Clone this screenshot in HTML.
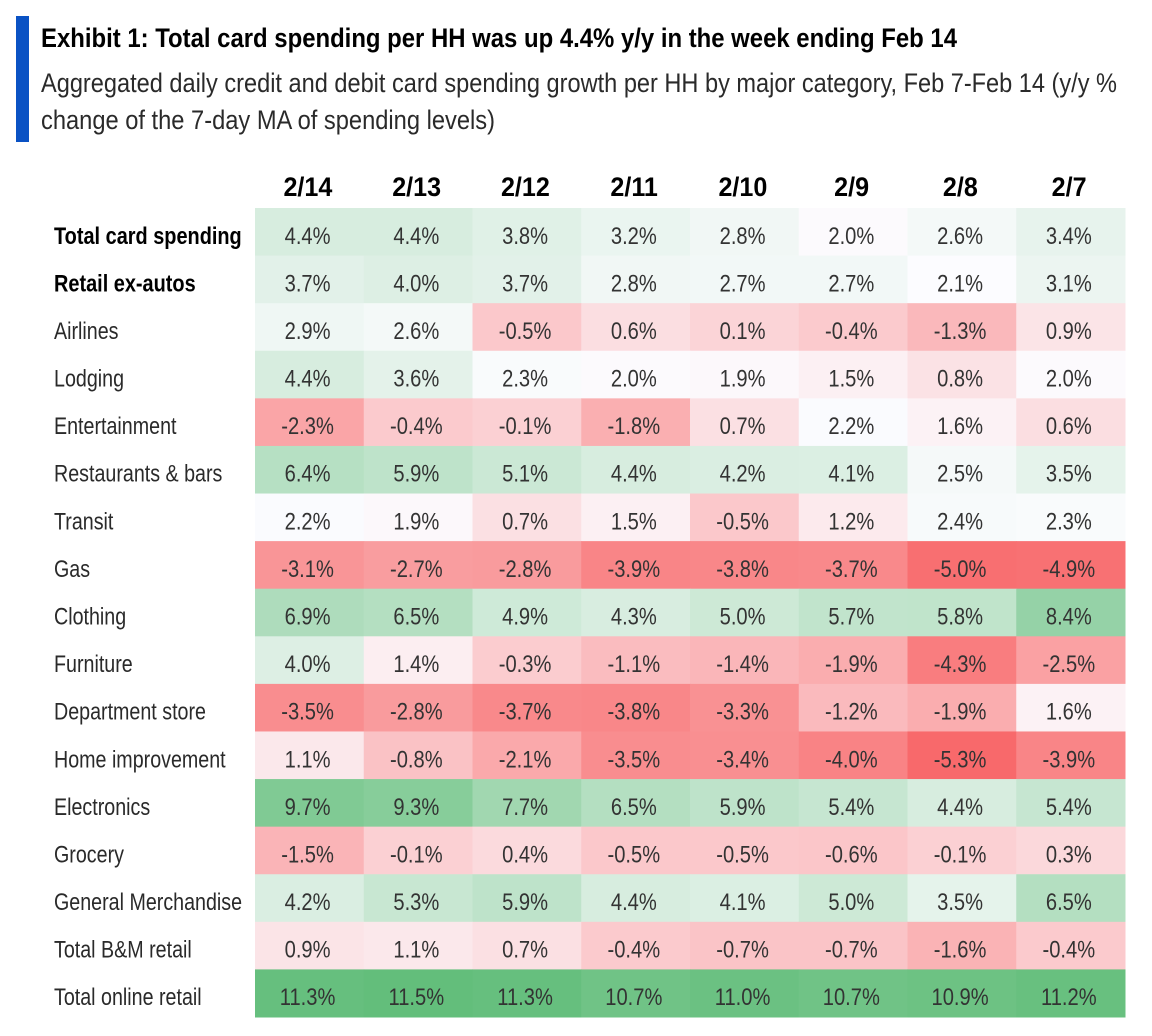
<!DOCTYPE html>
<html lang="en">
<head>
<meta charset="utf-8">
<title>Exhibit 1</title>
<style>
html,body{margin:0;padding:0;background:#fff;width:1152px;height:1036px;overflow:hidden}
svg{display:block;font-family:"Liberation Sans",sans-serif}
</style>
</head>
<body>
<svg id="chart" width="1152" height="1036" viewBox="0 0 1152 1036">
  <rect x="16" y="16" width="13" height="126" fill="#0a52c4"/>
  <text x="41" y="47" font-size="27" font-weight="700" fill="#000" textLength="916" lengthAdjust="spacingAndGlyphs">Exhibit 1: Total card spending per HH was up 4.4% y/y in the week ending Feb 14</text>
  <text x="41" y="92" font-size="27" fill="#2a2a2a" textLength="1076" lengthAdjust="spacingAndGlyphs">Aggregated daily credit and debit card spending growth per HH by major category, Feb 7-Feb 14 (y/y %</text>
  <text x="41" y="129" font-size="27" fill="#2a2a2a" textLength="454" lengthAdjust="spacingAndGlyphs">change of the 7-day MA of spending levels)</text>
  <g id="cells"></g>
  <g id="headers"></g>
  <g id="labels"></g>
  <g id="values"></g>
</svg>
<script>
const dates = ["2/14","2/13","2/12","2/11","2/10","2/9","2/8","2/7"];
const categories = ["Total card spending","Retail ex-autos","Airlines","Lodging","Entertainment","Restaurants & bars","Transit","Gas","Clothing","Furniture","Department store","Home improvement","Electronics","Grocery","General Merchandise","Total B&M retail","Total online retail"];
const boldCategories = ["Total card spending","Retail ex-autos"];
const totalCard = [4.4,4.4,3.8,3.2,2.8,2.0,2.6,3.4];
const retailExAutos = [3.7,4.0,3.7,2.8,2.7,2.7,2.1,3.1];
const airlines = [2.9,2.6,-0.5,0.6,0.1,-0.4,-1.3,0.9];
const lodging = [4.4,3.6,2.3,2.0,1.9,1.5,0.8,2.0];
const entertainment = [-2.3,-0.4,-0.1,-1.8,0.7,2.2,1.6,0.6];
const restaurants = [6.4,5.9,5.1,4.4,4.2,4.1,2.5,3.5];
const transit = [2.2,1.9,0.7,1.5,-0.5,1.2,2.4,2.3];
const gas = [-3.1,-2.7,-2.8,-3.9,-3.8,-3.7,-5.0,-4.9];
const clothing = [6.9,6.5,4.9,4.3,5.0,5.7,5.8,8.4];
const furniture = [4.0,1.4,-0.3,-1.1,-1.4,-1.9,-4.3,-2.5];
const departmentStore = [-3.5,-2.8,-3.7,-3.8,-3.3,-1.2,-1.9,1.6];
const homeImprovement = [1.1,-0.8,-2.1,-3.5,-3.4,-4.0,-5.3,-3.9];
const electronics = [9.7,9.3,7.7,6.5,5.9,5.4,4.4,5.4];
const grocery = [-1.5,-0.1,0.4,-0.5,-0.5,-0.6,-0.1,0.3];
const generalMerchandise = [4.2,5.3,5.9,4.4,4.1,5.0,3.5,6.5];
const totalBM = [0.9,1.1,0.7,-0.4,-0.7,-0.7,-1.6,-0.4];
const totalOnline = [11.3,11.5,11.3,10.7,11.0,10.7,10.9,11.2];
const seriesByRow = [totalCard,retailExAutos,airlines,lodging,entertainment,restaurants,transit,gas,clothing,furniture,departmentStore,homeImprovement,electronics,grocery,generalMerchandise,totalBM,totalOnline];

const NS = "http://www.w3.org/2000/svg";
const gridLeft = 255, gridRight = 1125, gridTop = 208, gridBottom = 1017;
const colWidth = (gridRight - gridLeft) / dates.length;
const rowHeight = (gridBottom - gridTop) / categories.length;
function xScale(i) { return gridLeft + i * colWidth; }
function yScale(i) { return gridTop + i * rowHeight; }

const allValues = seriesByRow.flat();
const scaleMin = Math.min(...allValues);
const scaleMax = Math.max(...allValues);
const scaleMid = 2.1;
function mix(a, b, t) { return a.map((c, k) => Math.round(c + (b[k] - c) * t)); }
function colorScale(v) {
  const red = [248,105,107], mid = [252,252,255], green = [99,190,123];
  const c = v >= scaleMid
    ? mix(mid, green, (v - scaleMid) / (scaleMax - scaleMid))
    : mix(mid, red, (scaleMid - v) / (scaleMid - scaleMin));
  return "rgb(" + c.join(",") + ")";
}

const cellsG = document.getElementById("cells");
const headersG = document.getElementById("headers");
const labelsG = document.getElementById("labels");
const valuesG = document.getElementById("values");

dates.forEach(function (d, c) {
  const t = document.createElementNS(NS, "text");
  t.setAttribute("transform", "translate(" + (xScale(c) + colWidth / 2 - 1.5) + ",196) scale(0.93,1)");
  t.setAttribute("text-anchor", "middle");
  t.setAttribute("font-size", "27");
  t.setAttribute("font-weight", "700");
  t.setAttribute("fill", "#000");
  
  
  t.textContent = d;
  headersG.appendChild(t);
});

categories.forEach(function (name, r) {
  const isBold = boldCategories.includes(name);
  const l = document.createElementNS(NS, "text");
  l.setAttribute("transform", "translate(54," + (yScale(r) + rowHeight / 2 + 12) + ") scale(" + (isBold ? 0.83 : 0.82) + ",1)");
  l.setAttribute("font-size", "24");
  l.setAttribute("font-weight", isBold ? "700" : "400");
  l.setAttribute("fill", isBold ? "#000" : "#2a2a2a");
  
  
  l.textContent = name;
  labelsG.appendChild(l);

  seriesByRow[r].forEach(function (v, c) {
    const rect = document.createElementNS(NS, "rect");
    rect.setAttribute("x", xScale(c));
    rect.setAttribute("y", yScale(r));
    rect.setAttribute("width", colWidth + 0.5);
    rect.setAttribute("height", rowHeight + 0.5);
    rect.setAttribute("fill", colorScale(v));
    
    
    cellsG.appendChild(rect);

    const t = document.createElementNS(NS, "text");
    t.setAttribute("transform", "translate(" + (xScale(c) + colWidth / 2 - 1.8) + "," + (yScale(r) + rowHeight / 2 + 12) + ") scale(0.84,1)");
    t.setAttribute("text-anchor", "middle");
    t.setAttribute("font-size", "24");
    t.setAttribute("fill", "#333");
    
    
    t.textContent = v.toFixed(1) + "%";
    valuesG.appendChild(t);
  });
});
</script>
</body>
</html>
